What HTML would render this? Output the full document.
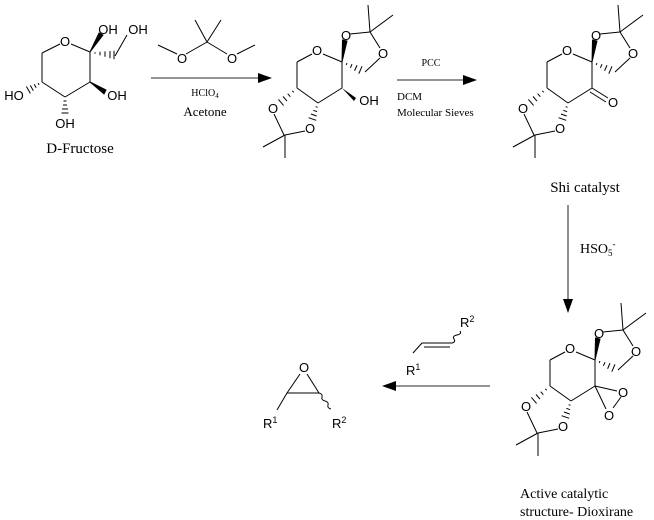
<!DOCTYPE html>
<html><head><meta charset="utf-8">
<style>
html,body{margin:0;padding:0;background:#fff;}
svg{display:block;}
text{font-family:"Liberation Sans",sans-serif;fill:#000;}
.s{font-family:"Liberation Serif",serif;}
</style></head><body>
<svg width="654" height="520" viewBox="0 0 654 520" xmlns="http://www.w3.org/2000/svg">
<defs>
<g id="skel" stroke="#000" stroke-width="1" fill="none">
  <line x1="547" y1="62" x2="562" y2="54"/>
  <line x1="573" y1="54" x2="592" y2="62"/>
  <line x1="592" y1="62" x2="592" y2="88"/>
  <line x1="592" y1="88" x2="568" y2="103"/>
  <line x1="568" y1="103" x2="547" y2="88"/>
  <line x1="547" y1="88" x2="547" y2="62"/>
  <polygon points="592,62 592.5,40 597,41" fill="#000"/>
  <line x1="600" y1="34" x2="620" y2="32"/>
  <line x1="620" y1="32" x2="630" y2="48"/>
  <line x1="630" y1="58" x2="615" y2="72"/>
  <line x1="620" y1="32" x2="618" y2="5"/>
  <line x1="620" y1="32" x2="643" y2="15"/>
  <path d="M597,63.08L596.2,64.92M602,64.16L600.4,67.84M607,65.24L604.6,70.76M612,66.32L608.8,73.68"/>
  <path d="M542.35,90.84L543.65,92.36M537.7,93.7L540.3,96.7M533,96.5L537,101.1M528.4,99.4L533.6,105.4"/>
  <path d="M565.66,106.67L567.54,107.33M563.32,110.34L567.08,111.66M561,114L566.6,116M558.6,117.7L566.2,120.3"/>
  <line x1="524" y1="114" x2="534" y2="135"/>
  <line x1="555" y1="131" x2="535" y2="135"/>
  <line x1="535" y1="135" x2="513" y2="147"/>
  <line x1="535" y1="135" x2="535" y2="158"/>
</g>
<g id="skelt">
  <text x="567" y="55" font-size="13" text-anchor="middle">O</text>
  <text x="596" y="40" font-size="13" text-anchor="middle">O</text>
  <text x="633" y="58" font-size="13" text-anchor="middle">O</text>
  <text x="523" y="113" font-size="13" text-anchor="middle">O</text>
  <text x="560" y="133" font-size="13" text-anchor="middle">O</text>
</g>
</defs>

<!-- D-Fructose -->
<g stroke="#000" stroke-width="1" fill="none">
  <line x1="42" y1="53" x2="60" y2="44"/>
  <line x1="71" y1="44" x2="90" y2="52"/>
  <line x1="90" y1="52" x2="90" y2="82"/>
  <line x1="90" y1="82" x2="65" y2="97"/>
  <line x1="65" y1="97" x2="42" y2="82"/>
  <line x1="42" y1="82" x2="42" y2="53"/>
  <polygon points="90,52 99,33 103,35" fill="#000"/>
  <path d="M95,52.2v1.6M100,51.8v3.6M105,51.4v5.4M110,51v7.2M114,50.8v8.4"/>
  <line x1="115" y1="56" x2="127" y2="35"/>
  <polygon points="90,82 106,90 104,94" fill="#000"/>
  <path d="M63.5,101h3M63,105h4M62,109h6M61.5,113h7"/>
  <path d="M38.1,83.14L39.1,84.86M34.2,84.28L36.2,87.72M30.3,85.4L33.3,90.6M26.4,86.56L30.4,93.44"/>
</g>
<text x="65" y="46" font-size="13" text-anchor="middle">O</text>
<text x="108" y="34" font-size="13" text-anchor="middle">OH</text>
<text x="138" y="34" font-size="13" text-anchor="middle">OH</text>
<text x="117" y="100" font-size="13" text-anchor="middle">OH</text>
<text x="65" y="128" font-size="13" text-anchor="middle">OH</text>
<text x="14" y="100" font-size="13" text-anchor="middle">HO</text>
<text x="80" y="153" font-size="15" text-anchor="middle" class="s">D-Fructose</text>

<!-- 2,2-dimethoxypropane -->
<g stroke="#000" stroke-width="1">
  <line x1="207" y1="42" x2="195" y2="20"/>
  <line x1="207" y1="42" x2="221" y2="20"/>
  <line x1="207" y1="42" x2="186" y2="54"/>
  <line x1="207" y1="42" x2="227" y2="54"/>
  <line x1="177" y1="54" x2="158" y2="45"/>
  <line x1="237" y1="54" x2="255" y2="45"/>
  <line x1="151" y1="78" x2="260" y2="78" stroke="#555" stroke-width="1.3"/>
</g>
<polygon points="272,78 258,73 258,83" fill="#000"/>
<text x="182" y="63" font-size="13" text-anchor="middle">O</text>
<text x="232" y="63" font-size="13" text-anchor="middle">O</text>
<text x="205" y="96" font-size="10" text-anchor="middle" class="s">HClO<tspan font-size="7" dy="2">4</tspan></text>
<text x="205" y="116" font-size="13" text-anchor="middle" class="s">Acetone</text>

<!-- product 1 -->
<g transform="translate(-250,0)">
  <use href="#skel"/><use href="#skelt"/>
  <polygon points="592,88 606,98 604,101" fill="#000"/>
  <text x="619" y="105" font-size="13" text-anchor="middle">OH</text>
</g>

<!-- PCC arrow -->
<line x1="397" y1="80" x2="464" y2="80" stroke="#555" stroke-width="1.3"/>
<polygon points="477,80 463,75 463,85" fill="#000"/>
<text x="431" y="66" font-size="10" text-anchor="middle" class="s">PCC</text>
<text x="397" y="100" font-size="11" class="s">DCM</text>
<text x="397" y="116" font-size="11" class="s">Molecular Sieves</text>

<!-- Shi catalyst -->
<use href="#skel"/><use href="#skelt"/>
<g stroke="#000" stroke-width="1">
  <line x1="592" y1="88" x2="608" y2="98"/>
  <line x1="590" y1="92" x2="606" y2="102"/>
</g>
<text x="613" y="107" font-size="13" text-anchor="middle">O</text>
<text x="585" y="192" font-size="15" text-anchor="middle" class="s">Shi catalyst</text>

<!-- down arrow -->
<line x1="568" y1="205" x2="568" y2="300" stroke="#555" stroke-width="1.3"/>
<polygon points="568,313 563,299 573,299" fill="#000"/>
<text x="580" y="253" font-size="14" class="s">HSO<tspan font-size="9" dy="3">5</tspan><tspan font-size="9" dy="-9">-</tspan></text>

<!-- dioxirane -->
<g transform="translate(3,298)">
  <use href="#skel"/><use href="#skelt"/>
  <g stroke="#000" stroke-width="1" fill="none">
    <line x1="592" y1="88" x2="614" y2="93"/>
    <line x1="592" y1="88" x2="603" y2="111"/>
    <line x1="618" y1="99" x2="610" y2="110"/>
  </g>
  <text x="620" y="99" font-size="13" text-anchor="middle">O</text>
  <text x="606" y="122" font-size="13" text-anchor="middle">O</text>
</g>
<text x="520" y="498" font-size="14" class="s">Active catalytic</text>
<text x="520" y="516" font-size="14" class="s">structure- Dioxirane</text>

<!-- left arrow -->
<line x1="490" y1="386" x2="395" y2="386" stroke="#555" stroke-width="1.3"/>
<polygon points="382,386 396,381 396,391" fill="#000"/>

<!-- alkene -->
<g stroke="#000" stroke-width="1" fill="none">
  <line x1="413" y1="353" x2="422" y2="343"/>
  <line x1="422" y1="343" x2="452" y2="343"/>
  <line x1="424" y1="347" x2="450" y2="347"/>
  <path d="M452,343 q4,-1 2,-4 t3,-4 t3,-4"/>
</g>
<text x="406" y="375" font-size="13">R<tspan font-size="9" dy="-5">1</tspan></text>
<text x="460" y="327" font-size="13">R<tspan font-size="9" dy="-5">2</tspan></text>

<!-- epoxide -->
<g stroke="#000" stroke-width="1" fill="none">
  <line x1="300" y1="374" x2="287" y2="393"/>
  <line x1="307" y1="374" x2="319" y2="393"/>
  <line x1="287" y1="393" x2="319" y2="393"/>
  <line x1="287" y1="393" x2="277" y2="410"/>
  <path d="M319,393 q4,1 3,4 t3,4 t3,4 t3,4"/>
</g>
<text x="304" y="372" font-size="13" text-anchor="middle">O</text>
<text x="263" y="428" font-size="13">R<tspan font-size="9" dy="-5">1</tspan></text>
<text x="332" y="428" font-size="13">R<tspan font-size="9" dy="-5">2</tspan></text>
</svg>
</body></html>
